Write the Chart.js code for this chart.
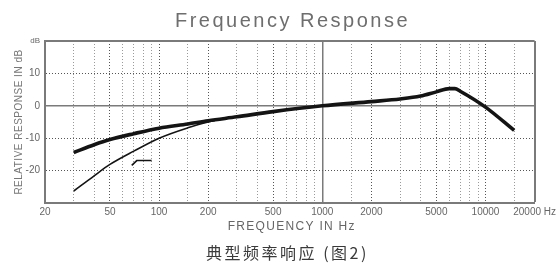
<!DOCTYPE html>
<html lang="zh">
<head>
<meta charset="utf-8">
<title>Frequency Response</title>
<script src="https://cdn.jsdelivr.net/npm/chart.js@4.4.1/dist/chart.umd.min.js"></script>
<style>
  html, body { margin: 0; padding: 0; background: #fff; }
</style>
</head>
<body>
<canvas id="responseChart" width="559" height="263"></canvas>
<script>
// main response (thick line)
const freqMain = [30, 40, 50, 70, 100, 150, 200, 300, 500, 1000, 2000, 3000, 4000, 5000, 6000, 6500, 7000, 10000, 15000];
const respMain = [-14.4, -12.0, -10.4, -8.6, -6.9, -5.6, -4.6, -3.4, -1.8, 0, 1.3, 2.1, 3.0, 4.3, 5.3, 5.3, 4.5, -0.4, -7.6];
// low cut response (thin line)
const freqLow = [30, 40, 50, 70, 100, 150, 200, 220];
const respLow = [-26.3, -21.6, -18.1, -14.0, -10.0, -6.8, -5.0, -4.5];
// small step mark near 70-90 Hz
const freqMark = [68, 73, 90];
const respMark = [-18.4, -16.9, -16.9];

// axes
const xGridValues = [20, 30, 40, 50, 60, 70, 80, 90, 100, 150, 200, 300, 400, 500, 600, 700, 800, 900,
  1000, 1500, 2000, 3000, 4000, 5000, 6000, 7000, 8000, 9000, 10000, 15000, 20000];
const xLabelled = [20, 50, 100, 200, 500, 1000, 2000, 5000, 10000, 20000];
const yTickValues = [-30, -20, -10, 0, 10, 20];

const toPoints = (xs, ys) => xs.map((x, i) => ({ x: x, y: ys[i] }));

const frameColor = '#7a7a7a';
const dotColor = '#555';
const minorColor = '#9a9a9a';

// letter spacing / horizontal nudge for the text blocks
const textTweaks = {
  id: 'textTweaks',
  afterLayout(chart) {
    const tweak = (obj, method, spacing, dx) => {
      if (!obj || obj['_tw_' + method]) return;
      const orig = obj[method].bind(obj);
      obj[method] = function (...args) {
        const ctx = chart.ctx;
        ctx.save();
        ctx.letterSpacing = spacing;
        ctx.translate(dx, 0);
        orig(...args);
        ctx.restore();
      };
      obj['_tw_' + method] = true;
    };
    const title = chart.titleBlock;
    tweak(title, 'draw', '2.5px', 25);
    chart.boxes
      .filter(b => title && b !== title && b.constructor === title.constructor)
      .forEach(b => tweak(b, 'draw', '2.5px', 20));
    tweak(chart.scales.x, 'drawTitle', '1.3px', 2);
    tweak(chart.scales.y, 'drawTitle', '0.5px', 0);
  }
};

const ctx = document.getElementById('responseChart').getContext('2d');
const chart = new Chart(ctx, {
  type: 'line',
  data: {
    datasets: [
      {
        data: toPoints(freqMain, respMain),
        borderColor: '#141414',
        borderWidth: 3.6,
        pointRadius: 0,
        cubicInterpolationMode: 'monotone',
        fill: false
      },
      {
        data: toPoints(freqLow, respLow),
        borderColor: '#141414',
        borderWidth: 1.6,
        pointRadius: 0,
        cubicInterpolationMode: 'monotone',
        fill: false
      },
      {
        data: toPoints(freqMark, respMark),
        borderColor: '#141414',
        borderWidth: 1.6,
        pointRadius: 0,
        tension: 0,
        fill: false
      }
    ]
  },
  options: {
    responsive: false,
    animation: false,
    layout: { padding: { left: 0, right: 24, top: 0, bottom: 0 } },
    plugins: {
      legend: { display: false },
      tooltip: { enabled: false },
      title: {
        display: true,
        text: 'Frequency Response',
        color: '#6e6e6e',
        font: { family: '"Liberation Sans", Arial, sans-serif', size: 20, weight: 'normal', lineHeight: 1 },
        padding: { top: 11, bottom: 10 }
      },
      subtitle: {
        display: true,
        position: 'bottom',
        text: '典型频率响应 (图2)',
        color: '#3a3a3a',
        font: { family: '"Noto Sans CJK SC", sans-serif', size: 16, weight: 'normal', lineHeight: 1 },
        padding: { top: 2, bottom: 2 }
      }
    },
    scales: {
      x: {
        type: 'logarithmic',
        min: 20,
        max: 20000,
        afterBuildTicks: scale => { scale.ticks = xGridValues.map(v => ({ value: v })); },
        afterFit: scale => { scale.height = 40; },
        grid: {
          drawTicks: false,
          color: c => {
            const v = c.tick ? c.tick.value : 0;
            if (v === 20 || v === 20000 || v === 1000) return frameColor;
            return xLabelled.includes(v) ? dotColor : minorColor;
          },
          lineWidth: c => {
            const v = c.tick ? c.tick.value : 0;
            if (v === 20000) return 2;
            if (v === 1000) return 1.5;
            return 1;
          }
        },
        border: {
          display: true,
          color: frameColor,
          width: 2,
          dash: c => {
            const v = c.tick ? c.tick.value : 0;
            return (v === 20 || v === 20000 || v === 1000) ? [] : [1, 2];
          }
        },
        ticks: {
          autoSkip: false,
          maxRotation: 0,
          padding: 3,
          color: '#666',
          font: { family: '"Liberation Sans", Arial, sans-serif', size: 10 },
          callback: v => {
            if (v === 20000) return '20000 Hz';
            return xLabelled.includes(v) ? String(v) : '';
          }
        },
        title: {
          display: true,
          text: 'FREQUENCY IN Hz',
          color: '#666',
          font: { family: '"Liberation Sans", Arial, sans-serif', size: 12, lineHeight: 1.2 },
          padding: { top: 0, bottom: 9 }
        }
      },
      y: {
        min: -30,
        max: 20,
        afterBuildTicks: scale => { scale.ticks = yTickValues.map(v => ({ value: v })); },
        afterFit: scale => { scale.width = 45; },
        grid: {
          drawTicks: false,
          color: c => {
            const v = c.tick ? c.tick.value : 1;
            if (v === 20 || v === -30 || v === 0) return frameColor;
            return dotColor;
          },
          lineWidth: c => {
            const v = c.tick ? c.tick.value : 1;
            if (v === 20) return 2;
            if (v === 0) return 1.5;
            return 1;
          }
        },
        border: {
          display: true,
          color: frameColor,
          width: 2,
          dash: c => {
            const v = c.tick ? c.tick.value : 1;
            return (v === 20 || v === -30 || v === 0) ? [] : [1, 2];
          }
        },
        ticks: {
          padding: 5,
          color: '#666',
          font: c => ({ family: '"Liberation Sans", Arial, sans-serif', size: (c.tick && c.tick.value === 20) ? 8 : 10 }),
          callback: v => {
            if (v === 20) return 'dB';
            if (v === -30) return '';
            return String(v);
          }
        },
        title: {
          display: true,
          text: 'RELATIVE RESPONSE IN dB',
          color: '#777',
          font: { family: '"Liberation Sans", Arial, sans-serif', size: 10, lineHeight: 1.2 },
          padding: { top: 13, bottom: 0 }
        }
      }
    }
  },
  plugins: [textTweaks]
});
</script>
</body>
</html>
